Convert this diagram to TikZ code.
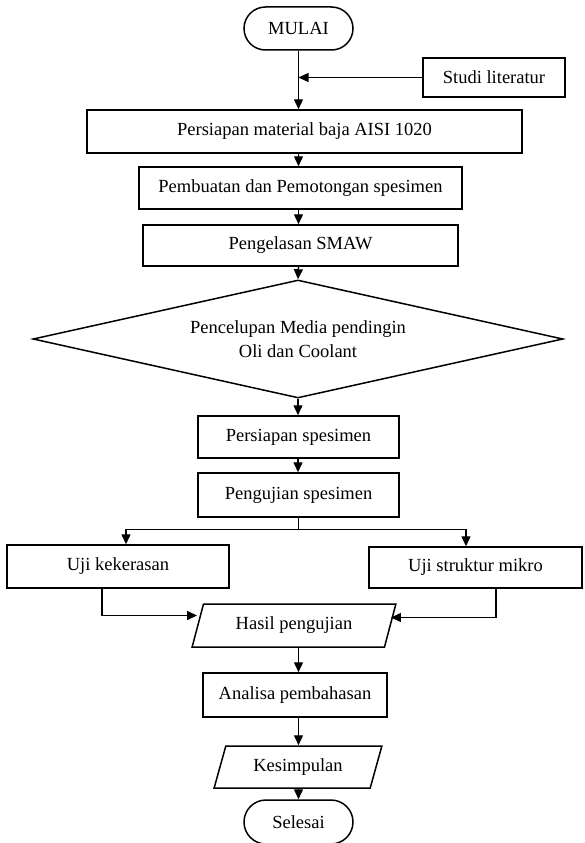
\documentclass[tikz,border=0pt]{standalone}
\usepackage{fontspec}
\setmainfont{Liberation Serif}
\usetikzlibrary{positioning, arrows.meta, shapes.geometric, shapes.misc}
\tikzset{
  proses/.style={
    draw,
    line width=1.5pt,
    minimum height=43pt,
    inner sep=2pt,
    font=\fontsize{18.5}{24}\selectfont,
    align=center
  },
  terminal/.style={proses, rounded rectangle},
  keputusan/.style={proses, diamond, aspect=4.5, inner sep=0pt},
  data/.style={
    proses, trapezium,
    trapezium left angle=70, trapezium right angle=110,
    trapezium stretches=true
  },
  panah/.style={-{Triangle[length=10pt,width=9pt]}, line width=1.4pt}
}
\begin{document}
\begin{tikzpicture}[x=1pt, y=-1pt]
  % Background and frame
  \fill[white] (0,0) rectangle (585,843);
  \useasboundingbox (0,0) rectangle (585,843);

  % Start and input
  \node[terminal, minimum width=113pt] (mulai) at (298.5,28.5) {MULAI};
  \node[proses, minimum width=142pt, minimum height=39pt] (studi) at (494,77.5) {Studi literatur};

  % Preparation steps
  \node[proses, minimum width=435pt] (bahan) at (304.5,131.5) {Persiapan material baja AISI 1020};
  \node[proses, minimum width=323pt, minimum height=42pt] (buat) at (300.5,188) {Pembuatan dan Pemotongan spesimen};
  \node[proses, minimum width=315pt, minimum height=41pt] (las) at (300.5,245.5) {Pengelasan SMAW};

  % Quenching
  \node[keputusan, minimum width=530pt, minimum height=118pt] (celup) at (298,339) {Pencelupan Media pendingin\\Oli dan Coolant};

  % Testing
  \node[proses, minimum width=201pt, minimum height=42pt] (siap) at (298.5,437) {Persiapan spesimen};
  \node[proses, minimum width=201pt, minimum height=44pt] (uji) at (298.5,495) {Pengujian spesimen};
  \node[proses, minimum width=222pt] (keras) at (118,566.5) {Uji kekerasan};
  \node[proses, minimum width=213pt, minimum height=41pt] (mikro) at (475.5,567.5) {Uji struktur mikro};

  % Results and end
  \node[data, minimum width=204pt] (hasil) at (294,625.5) {Hasil pengujian};
  \node[proses, minimum width=184pt, minimum height=44pt] (analisa) at (295,695) {Analisa pembahasan};
  \node[data, minimum width=168pt, minimum height=42pt] (simpul) at (298,767) {Kesimpulan};
  \node[terminal, minimum width=113pt, minimum height=44pt] (selesai) at (298.5,822) {Selesai};

  % Main flow
  \draw[panah] (mulai.south) -- (mulai |- bahan.north);
  \draw[panah] (studi) -- (studi -| mulai);
  \draw[panah] (bahan.south -| mulai) -- (buat.north -| mulai);
  \draw[panah] (buat.south -| mulai) -- (las.north -| mulai);
  \draw[panah] (las.south -| mulai) -- (celup.north);
  \draw[panah] (celup.south) -- (siap.north -| celup);
  \draw[panah] (siap.south -| celup) -- (uji.north -| celup);

  % Branches
  \draw[panah] (uji.south) -- ++(0,12) -| ([xshift=8pt]keras.north);
  \draw[panah] (uji.south) -- ++(0,12) -| ([xshift=-9.5pt]mikro.north);
  \draw[panah] ([xshift=-16pt]keras.south) |- ([yshift=10pt]hasil.west);
  \draw[panah] ([xshift=20.5pt]mikro.south) |- ([yshift=8pt]hasil.east);

  % Closing
  \draw[panah] (hasil.south -| mulai) -- (analisa.north -| mulai);
  \draw[panah] (analisa.south -| mulai) -- (simpul.north -| mulai);
  \draw[panah] (simpul.south -| mulai) -- (selesai.north);
\end{tikzpicture}
\end{document}
